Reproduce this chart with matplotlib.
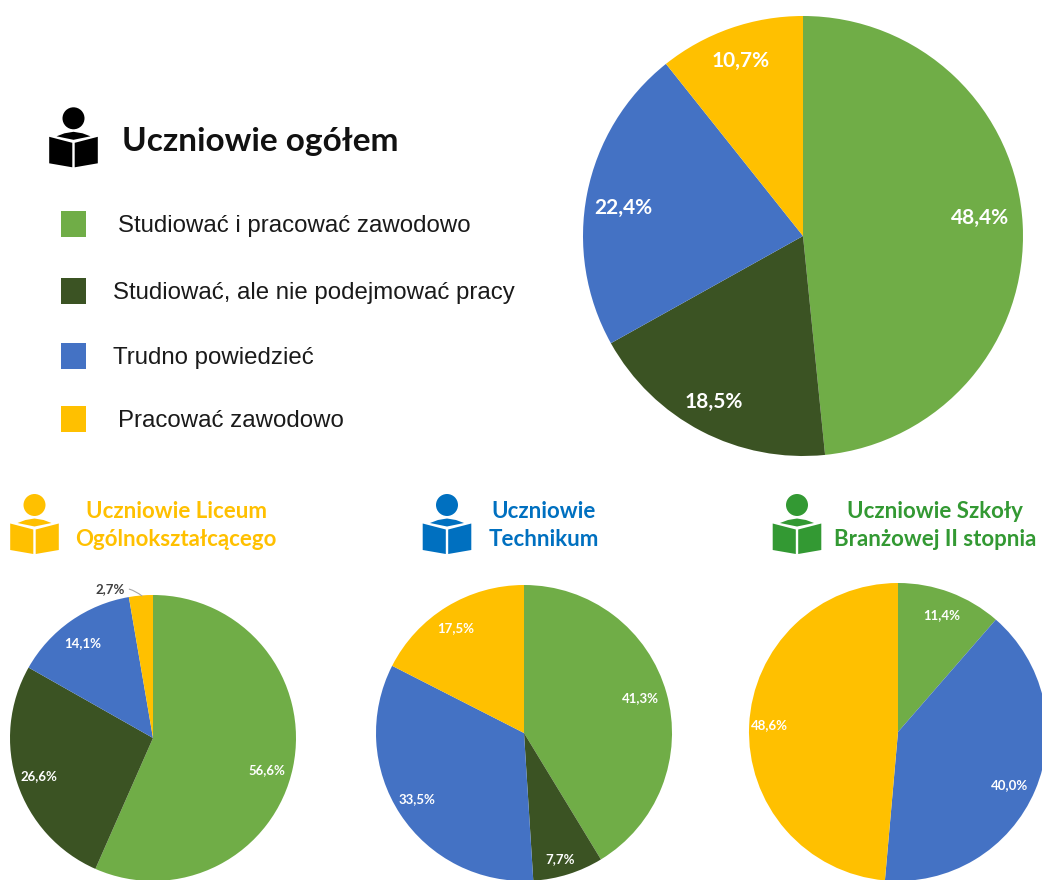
import matplotlib
matplotlib.use('Agg')
import matplotlib.pyplot as plt
from matplotlib.patches import Circle, Polygon, Rectangle

W, H = 1042, 880

GREEN = '#70AD47'
DARK = '#3B5323'
BLUE = '#4472C4'
YELLOW = '#FFC000'

categories = ['Studiować i pracować zawodowo', 'Studiować, ale nie podejmować pracy',
              'Trudno powiedzieć', 'Pracować zawodowo']
cat_colors = [GREEN, DARK, BLUE, YELLOW]

ogolem = [48.4, 18.5, 22.4, 10.7]
liceum = [56.6, 26.6, 14.1, 2.7]
technikum = [41.3, 7.7, 33.5, 17.5]
branzowa = [11.4, 40.0, 48.6]
branzowa_colors = [GREEN, BLUE, YELLOW]


def Y(y):
    # picture coordinates have y going down
    return H - y


def pct(v):
    return f'{v:.1f}%'.replace('.', ',')


fig = plt.figure(figsize=(W / 100, H / 100), dpi=100)
ax = fig.add_axes([0, 0, 1, 1])


def draw_pie(values, colors, cx, cy, r, label_pos, fs):
    ax.pie(values, colors=colors, startangle=90, counterclock=False,
           center=(cx, Y(cy)), radius=r, wedgeprops={'linewidth': 0})
    for v, (x, y) in zip(values, label_pos):
        ax.text(x, Y(y), pct(v), color='white', fontsize=fs, fontweight='bold',
                family='Lato', ha='center', va='center')


def draw_reader(cx, head_y, color):
    # little person reading a book, offsets measured from the head centre
    def pts(lst):
        return [(cx + dx, Y(head_y + dy)) for dx, dy in lst]
    ax.add_patch(Circle((cx, Y(head_y)), 11, fc=color, ec='none'))
    ax.add_patch(Polygon(pts([(-24.3, 18.5), (-1.2, 24.5), (-1.2, 49), (-24.3, 45)]), fc=color, ec='none'))
    ax.add_patch(Polygon(pts([(24.3, 18.5), (1.2, 24.5), (1.2, 49), (24.3, 45)]), fc=color, ec='none'))
    ax.add_patch(Polygon(pts([(-17, 18), (-9, 15), (0, 13.5), (9, 15), (17, 18), (0, 21.5)]), fc=color, ec='none'))


draw_pie(ogolem, cat_colors, 803, 236, 220, [(980, 218), (714, 402), (623.5, 208), (741, 61)], 15)
draw_pie(liceum, cat_colors, 153, 738, 143, [(266.5, 770), (39, 776), (83, 643)], 9.5)
draw_pie(technikum, cat_colors, 524, 733, 148, [(640, 698), (560, 859), (417, 799), (456, 628)], 9.5)
draw_pie(branzowa, branzowa_colors, 898, 732, 149, [(942, 615), (1010, 785), (769, 725)], 9.5)

ax.set_xlim(0, W)
ax.set_ylim(0, H)
ax.set_aspect('equal')
ax.axis('off')

# small slice label with leader
ax.annotate(pct(liceum[3]), xy=(142, Y(596)), xytext=(110.5, Y(589)),
            color='#404040', fontsize=9.5, fontweight='bold', family='Lato', ha='center', va='center',
            arrowprops=dict(arrowstyle='-', color='#A6A6A6', lw=0.8,
                            connectionstyle='arc3,rad=-0.25', shrinkA=1, shrinkB=0))

# legend block
draw_reader(73.5, 118.3, 'black')
ax.text(122, Y(141), 'Uczniowie ogółem', fontsize=24, fontweight='bold', family='Lato',
        color='#111111', ha='left', va='center')

legend_y = [224, 291, 356, 419]
legend_x = [118, 113, 113, 118]
for c, col, y, x in zip(categories, cat_colors, legend_y, legend_x):
    ax.add_patch(Rectangle((61, Y(y + 13)), 25, 26, fc=col, ec='none'))
    ax.text(x, Y(y + 2), c, fontsize=17.3, family='Liberation Sans', color='#1a1a1a',
            ha='left', va='center')

# group headers
draw_reader(34.5, 505, YELLOW)
draw_reader(447, 505, '#0070C0')
draw_reader(797, 505, '#339933')

for txt, x, y, col in [('Uczniowie Liceum', 176, 511, YELLOW),
                       ('Ogólnokształcącego', 175.5, 540, YELLOW),
                       ('Uczniowie', 544, 511, '#0070C0'),
                       ('Technikum', 544, 540, '#0070C0'),
                       ('Uczniowie Szkoły', 935, 511, '#339933'),
                       ('Branżowej II stopnia', 935, 540, '#339933')]:
    ax.text(x, Y(y), txt, fontsize=16, fontweight='bold', family='Lato', color=col,
            ha='center', va='center')

fig.savefig('out.png', dpi=100, facecolor='white')
